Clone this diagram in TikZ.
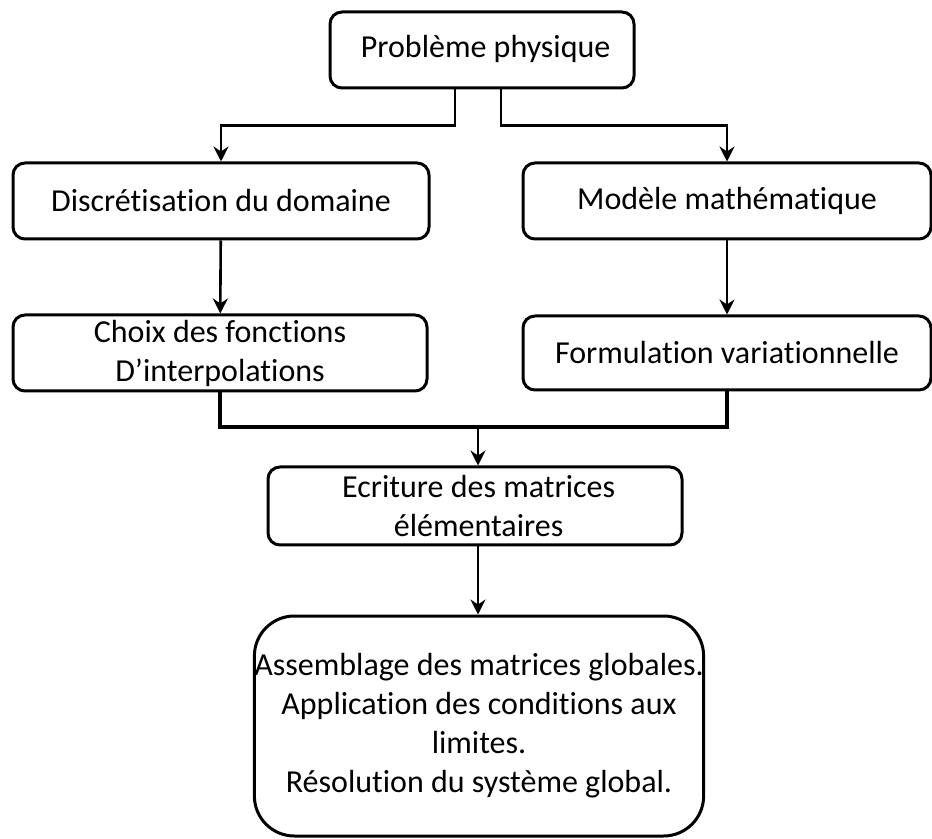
\documentclass[tikz,border=0pt]{standalone}
\usepackage{fontspec}
\setmainfont{Carlito}[Ligatures={NoCommon}]
\usetikzlibrary{arrows.meta}
\tikzset{
  etape/.style={draw,line width=1.5pt,rounded corners=6pt,align=center,inner sep=2pt},
  fleche/.style={-{Stealth[length=7.5pt,width=7.5pt,inset=2.5pt]},line width=1.3pt},
  liaison/.style={line width=2pt},
}
\begin{document}
\begin{tikzpicture}[x=0.5pt,y=-0.5pt,font=\fontsize{16}{19.5}\selectfont]
  \useasboundingbox (0,0) rectangle (932,839);
  % les etapes
  \node[etape,minimum width=152pt,minimum height=38pt] (phys) at (482,50) {\strut\ Problème physique};
  \node[etape,minimum width=208pt,minimum height=38pt] (discr) at (221,201) {Discrétisation du domaine};
  \node[etape,minimum width=204pt,minimum height=38pt] (modele) at (727,201) {Modèle mathématique};
  \node[etape,minimum width=207pt,minimum height=38pt] (choix) at (220,353) {Choix des fonctions\hspace{1em}\\D’interpolations\hspace{1em}};
  \node[etape,minimum width=204pt,minimum height=37pt] (formul) at (727,353) {Formulation variationnelle};
  \node[etape,minimum width=207pt,minimum height=39pt] (ecrit) at (475,506) {\ Ecriture des matrices\\\ élémentaires};
  \node[etape,rounded corners=20pt,inner xsep=0pt,minimum width=224pt,minimum height=110pt] (resol) at (479,726)
    {Assemblage des matrices globales.\\Application des conditions aux\\limites.\\Résolution du système global.};
  % liaisons
  \draw[fleche] ([xshift=-13.5pt]phys.south) -- ++(0,36) -| (discr.north);
  \draw[fleche] ([xshift=9.5pt]phys.south) -- ++(0,36) -| (modele.north);
  \draw[fleche] (discr) -- (choix);
  \draw[fleche] (modele) -- (formul);
  \coordinate (jn) at (478,427);
  \draw[liaison] (choix.south) |- (jn) -| (formul.south);
  \draw[fleche] (jn) -- (jn |- ecrit.north);
  \draw[fleche] (ecrit.south -| jn) -- (jn |- resol.north);
\end{tikzpicture}
\end{document}
